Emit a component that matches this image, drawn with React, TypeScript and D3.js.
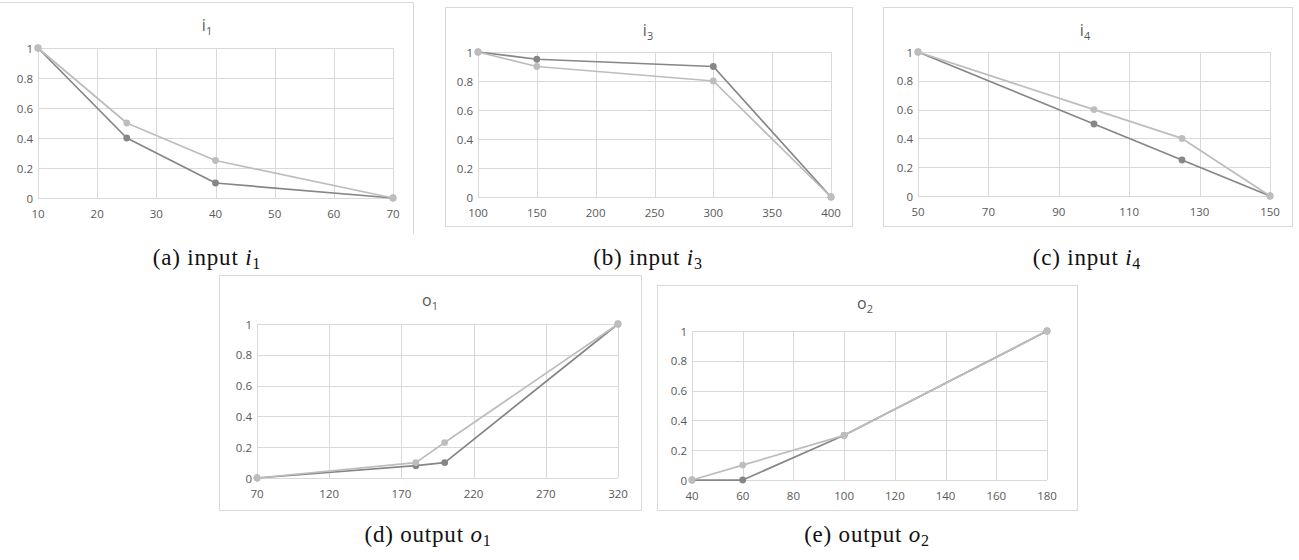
import React, { useEffect, useRef } from 'react';
import * as d3 from 'd3';

// series values
const i1X = [10, 25, 40, 70];
const i1Dark = [1, 0.4, 0.1, 0];
const i1Light = [1, 0.5, 0.25, 0];

const i3X = [100, 150, 300, 400];
const i3Dark = [1, 0.95, 0.9, 0];
const i3Light = [1, 0.9, 0.8, 0];

const i4X = [50, 100, 125, 150];
const i4Dark = [1, 0.5, 0.25, 0];
const i4Light = [1, 0.6, 0.4, 0];

const o1X = [70, 180, 200, 320];
const o1Dark = [0, 0.08, 0.1, 1];
const o1Light = [0, 0.1, 0.23, 1];

const o2X = [40, 60, 100, 180];
const o2Dark = [0, 0, 0.3, 1];
const o2Light = [0, 0.1, 0.3, 1];

const yTicks = [0, 0.2, 0.4, 0.6, 0.8, 1];
const i1Ticks = [10, 20, 30, 40, 50, 60, 70];
const i3Ticks = [100, 150, 200, 250, 300, 350, 400];
const i4Ticks = [50, 70, 90, 110, 130, 150];
const o1Ticks = [70, 120, 170, 220, 270, 320];
const o2Ticks = [40, 60, 80, 100, 120, 140, 160, 180];

const titleLetters = ['i', 'i', 'i', 'o', 'o'];
const titleSubs = ['1', '3', '4', '1', '2'];
const captionLabels = ['(a) input ', '(b) input ', '(c) input ', '(d) output ', '(e) output '];

interface Panel {
  xs: number[];
  dark: number[];
  light: number[];
  ticks: number[];
  frame: [number, number, number, number]; // x, y, w, h
  plot: [number, number, number, number]; // left, right, top, bottom
  title: [number, number];
  caption: [number, number];
  noBottom?: boolean;
}

const panels: Panel[] = [
  { xs: i1X, dark: i1Dark, light: i1Light, ticks: i1Ticks, frame: [-2, 2, 416, 232], plot: [38, 393, 48, 198], title: [207, 31], caption: [207, 265], noBottom: true },
  { xs: i3X, dark: i3Dark, light: i3Light, ticks: i3Ticks, frame: [445, 7, 407, 219], plot: [478, 831, 52, 197], title: [648, 36], caption: [648, 265] },
  { xs: i4X, dark: i4Dark, light: i4Light, ticks: i4Ticks, frame: [883, 7, 409, 219], plot: [918, 1270, 52, 196], title: [1085, 36], caption: [1087, 265] },
  { xs: o1X, dark: o1Dark, light: o1Light, ticks: o1Ticks, frame: [219, 275, 422, 235], plot: [257, 618, 324, 478], title: [430, 306], caption: [428, 542] },
  { xs: o2X, dark: o2Dark, light: o2Light, ticks: o2Ticks, frame: [657, 285, 420, 225], plot: [692, 1047, 331, 480], title: [865, 309], caption: [867, 542] },
];

const DARK = '#868686';
const LIGHT = '#bdbdbd';
const GRID = '#d9d9d9';
const TEXT = '#595959';
const AXIS_FONT = "'Open Sans', 'Noto Sans', sans-serif";

const App: React.FC = () => {
  const svgRef = useRef<SVGSVGElement>(null);

  useEffect(() => {
    if (!svgRef.current) return;
    const svg = d3.select(svgRef.current).html('');
    svg.append('rect').attr('width', 1299).attr('height', 560).attr('fill', '#ffffff');

    panels.forEach((p, idx) => {
      const g = svg.append('g');
      const [fx, fy, fw, fh] = p.frame;
      if (p.noBottom) {
        g.append('path')
          .attr('d', `M${fx},${fy + 0.5}H${fx + fw - 0.5}V${fy + fh}`)
          .attr('fill', 'none')
          .attr('stroke', GRID);
      } else {
        g.append('rect')
          .attr('x', fx + 0.5).attr('y', fy + 0.5)
          .attr('width', fw).attr('height', fh)
          .attr('fill', 'none').attr('stroke', GRID);
      }

      const [l, r, t, b] = p.plot;
      const x = d3.scaleLinear().domain([p.ticks[0], p.ticks[p.ticks.length - 1]]).range([l, r]);
      const y = d3.scaleLinear().domain([0, 1]).range([b, t]);

      // gridlines
      g.selectAll('.vg').data(p.ticks).enter().append('line')
        .attr('x1', d => Math.round(x(d)) + 0.5).attr('x2', d => Math.round(x(d)) + 0.5)
        .attr('y1', t).attr('y2', b)
        .attr('stroke', GRID);
      g.selectAll('.hg').data(yTicks).enter().append('line')
        .attr('y1', d => Math.round(y(d)) + 0.5).attr('y2', d => Math.round(y(d)) + 0.5)
        .attr('x1', l).attr('x2', r)
        .attr('stroke', GRID);

      // tick labels
      g.selectAll('.xl').data(p.ticks).enter().append('text')
        .attr('x', d => x(d)).attr('y', b + 20)
        .attr('text-anchor', 'middle')
        .attr('font-family', AXIS_FONT).attr('font-size', 11.5).attr('fill', TEXT)
        .text(d => String(d));
      g.selectAll('.yl').data(yTicks).enter().append('text')
        .attr('x', l - 5).attr('y', d => y(d) + 4.5)
        .attr('text-anchor', 'end')
        .attr('font-family', AXIS_FONT).attr('font-size', 11.5).attr('fill', TEXT)
        .text(d => String(d));

      // title
      const title = g.append('text')
        .attr('x', p.title[0]).attr('y', p.title[1])
        .attr('text-anchor', 'middle')
        .attr('font-family', AXIS_FONT).attr('font-size', 16).attr('fill', TEXT);
      title.append('tspan').text(titleLetters[idx]);
      title.append('tspan').attr('font-size', 11).attr('dy', 4).text(titleSubs[idx]);

      // series, light drawn last
      const line = d3.line<number>().x((d, i) => x(p.xs[i])).y(d => y(d));
      [[p.dark, DARK], [p.light, LIGHT]].forEach(([vals, color]) => {
        const v = vals as number[];
        g.append('path').datum(v)
          .attr('d', line)
          .attr('fill', 'none')
          .attr('stroke', color as string)
          .attr('stroke-width', 1.75)
          .attr('stroke-linejoin', 'round');
        g.selectAll(null).data(v).enter().append('circle')
          .attr('cx', (d, i) => x(p.xs[i]))
          .attr('cy', d => y(d))
          .attr('r', 3.4)
          .attr('fill', color as string);
      });

      // caption
      const cap = svg.append('text')
        .attr('x', p.caption[0]).attr('y', p.caption[1])
        .attr('text-anchor', 'middle')
        .attr('font-family', "'Liberation Serif', 'DejaVu Serif', serif")
        .attr('font-size', 23).attr('letter-spacing', 0.8).attr('fill', '#111');
      cap.append('tspan').text(captionLabels[idx]);
      cap.append('tspan').attr('font-style', 'italic').text(titleLetters[idx]);
      cap.append('tspan').attr('font-size', 16).attr('dy', 4).text(titleSubs[idx]);
    });
  }, []);

  return (
    <svg ref={svgRef} width={1299} height={560}
      style={{ position: 'absolute', left: 0, top: 0, display: 'block' }} />
  );
};

export default App;
